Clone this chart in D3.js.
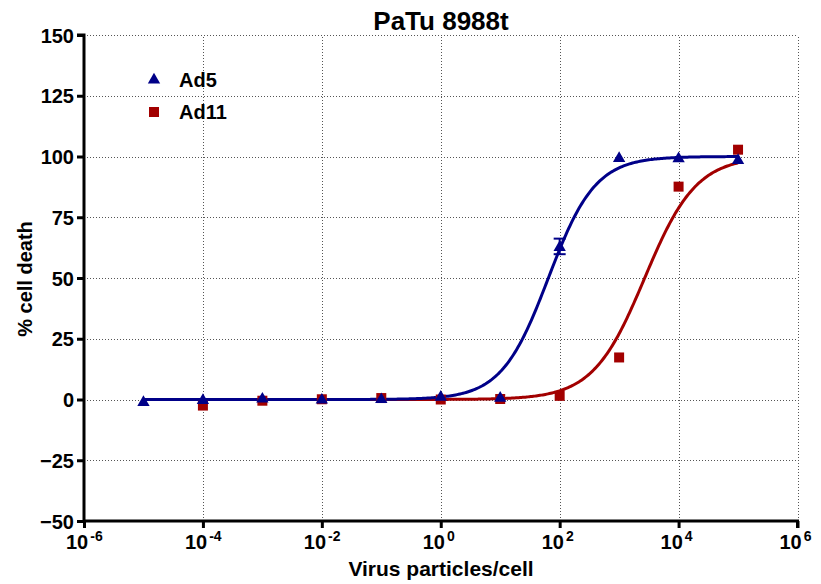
<!DOCTYPE html>
<html>
<head>
<meta charset="utf-8">
<script src="https://cdn.jsdelivr.net/npm/d3@7"></script>
<style>
  html, body { margin: 0; padding: 0; background: #fff; }
  text { font-family: Arial, "Liberation Sans", sans-serif; font-weight: bold; }
</style>
</head>
<body>
<svg id="chart" width="821" height="584"></svg>
<script>
// Dose–response of PaTu 8988t cells to Ad5 and Ad11
const title = "PaTu 8988t";
const xLabel = "Virus particles/cell";
const yLabel = "% cell death";

const xTickExponents = [-6, -4, -2, 0, 2, 4, 6];
const yTicks = [-50, -25, 0, 25, 50, 75, 100, 125, 150];

const ad5Doses  = [1e-5, 1e-4, 1e-3, 1e-2, 1e-1, 1e0, 1e1, 1e2, 1e3, 1e4, 1e5];
const ad5Death  = [-0.8, 0.0, 0.6, 0.2, 0.4, 1.4, 1.0, 63.0, 99.6, 99.5, 98.8];
const ad5Error  = [0, 0, 0, 0, 0, 0, 0, 3.2, 0, 0, 0];

const ad11Doses = [1e-4, 1e-3, 1e-2, 1e-1, 1e0, 1e1, 1e2, 1e3, 1e4, 1e5];
const ad11Death = [-2.5, -0.5, 0.1, 0.6, 0.0, 0.2, 1.5, 17.3, 87.6, 102.8];

// Sigmoidal fit parameters (bottom, top, logEC50, Hill slope)
const ad5Fit  = { bottom: 0, top: 100, logEC50: 1.81, hill: 1.1 };
const ad11Fit = { bottom: 0, top: 100, logEC50: 3.43, hill: 1.0 };

const ad5Color = "#000088";
const ad11Color = "#A20000";

const svg = d3.select("#chart");
const margin = { left: 84 };

const x = d3.scaleLog().domain([1e-6, 1e6]).range([margin.left, 797.5]);
const y = d3.scaleLinear().domain([-50, 150]).range([521, 35]);

// Grid
const grid = svg.append("g").attr("stroke", "#555").attr("stroke-width", 1)
  .attr("stroke-dasharray", "1,2").attr("shape-rendering", "crispEdges");
grid.selectAll("line.gy").data(yTicks.filter(v => v > -50)).join("line")
  .attr("x1", x.range()[0]).attr("x2", x.range()[1])
  .attr("y1", d => Math.round(y(d)) + 0.5).attr("y2", d => Math.round(y(d)) + 0.5);
grid.selectAll("line.gx").data(xTickExponents.filter(e => e > -6)).join("line")
  .attr("x1", d => Math.round(x(Math.pow(10, d))) + 0.5)
  .attr("x2", d => Math.round(x(Math.pow(10, d))) + 0.5)
  .attr("y1", y(-50)).attr("y2", y(150));

// Fit curves
function logistic(p, lx) {
  return p.bottom + (p.top - p.bottom) / (1 + Math.pow(10, (p.logEC50 - lx) * p.hill));
}
function curveData(p, lo, hi) {
  const pts = [];
  for (let i = 0; i <= 400; i++) {
    const lx = lo + (hi - lo) * i / 400;
    pts.push([lx, logistic(p, lx)]);
  }
  return pts;
}
const line = d3.line().x(d => x(Math.pow(10, d[0]))).y(d => y(d[1]));

svg.append("path").datum(curveData(ad11Fit, -4, 5)).attr("d", line)
  .attr("fill", "none").attr("stroke", ad11Color).attr("stroke-width", 3);
svg.append("path").datum(curveData(ad5Fit, -5, 5)).attr("d", line)
  .attr("fill", "none").attr("stroke", ad5Color).attr("stroke-width", 3);

// Markers
const tri = d3.symbol().type(d3.symbolTriangle).size(66);
const sq = d3.symbol().type(d3.symbolSquare).size(100);

const ad5Pts = ad5Doses.map((d, i) => ({ d, v: ad5Death[i], e: ad5Error[i] }));
const ad11Pts = ad11Doses.map((d, i) => ({ d, v: ad11Death[i] }));

svg.append("g").selectAll("path").data(ad11Pts).join("path")
  .attr("d", sq).attr("fill", ad11Color)
  .attr("transform", p => `translate(${x(p.d)},${y(p.v)})`);

const eb = svg.append("g").attr("stroke", ad5Color).attr("stroke-width", 2);
ad5Pts.filter(p => p.e > 0).forEach(p => {
  const cx = x(p.d);
  eb.append("line").attr("x1", cx).attr("x2", cx).attr("y1", y(p.v + p.e)).attr("y2", y(p.v - p.e));
  eb.append("line").attr("x1", cx - 6).attr("x2", cx + 6).attr("y1", y(p.v + p.e)).attr("y2", y(p.v + p.e));
  eb.append("line").attr("x1", cx - 6).attr("x2", cx + 6).attr("y1", y(p.v - p.e)).attr("y2", y(p.v - p.e));
});
svg.append("g").selectAll("path").data(ad5Pts).join("path")
  .attr("d", tri).attr("fill", ad5Color)
  .attr("transform", p => `translate(${x(p.d)},${y(p.v) + 1})`);

// Axes
const yAxis = d3.axisLeft(y).tickValues(yTicks).tickSize(7).tickPadding(3).tickFormat(d3.format("d"));
const gy = svg.append("g").attr("transform", `translate(${margin.left},0)`).call(yAxis);
gy.select(".domain").attr("stroke", "#000").attr("stroke-width", 3).attr("d", `M-7,${y(150)}H0V${y(-50)}`);
gy.selectAll(".tick line").attr("stroke", "#000").attr("stroke-width", 3);
gy.selectAll(".tick text").attr("font-size", 20).attr("fill", "#000").attr("dy", "0.36em");

const xAxis = d3.axisBottom(x).tickValues(xTickExponents.map(e => Math.pow(10, e))).tickSize(7).tickFormat("");
const gx = svg.append("g").attr("transform", `translate(0,${y(-50)})`).call(xAxis);
gx.select(".domain").attr("stroke", "#000").attr("stroke-width", 3).attr("d", `M${x.range()[0]},0H${x.range()[1]}V7`);
gx.selectAll(".tick line").attr("stroke", "#000").attr("stroke-width", 3);

const xl = svg.append("g");
xTickExponents.forEach(e => {
  const t = xl.append("text").attr("x", x(Math.pow(10, e)) - 18).attr("y", 549)
    .attr("font-size", 20).attr("fill", "#000");
  t.append("tspan").text("10");
  t.append("tspan").attr("dx", 2).attr("dy", -8).attr("font-size", 14).text(String(e));
});

// Titles
svg.append("text").attr("x", 441).attr("y", 30).attr("text-anchor", "middle")
  .attr("font-size", 26).text(title);
svg.append("text").attr("x", 441).attr("y", 576).attr("text-anchor", "middle")
  .attr("font-size", 21).text(xLabel);
svg.append("text").attr("transform", "translate(32,279) rotate(-90)").attr("text-anchor", "middle")
  .attr("font-size", 20).text(yLabel);

// Legend
const legend = svg.append("g");
legend.append("path").attr("d", tri).attr("fill", ad5Color).attr("transform", "translate(154,80)");
legend.append("text").attr("x", 179).attr("y", 87).attr("font-size", 20).text("Ad5");
legend.append("path").attr("d", sq).attr("fill", ad11Color).attr("transform", "translate(154,112)");
legend.append("text").attr("x", 179).attr("y", 119).attr("font-size", 20).text("Ad11");
</script>
</body>
</html>
